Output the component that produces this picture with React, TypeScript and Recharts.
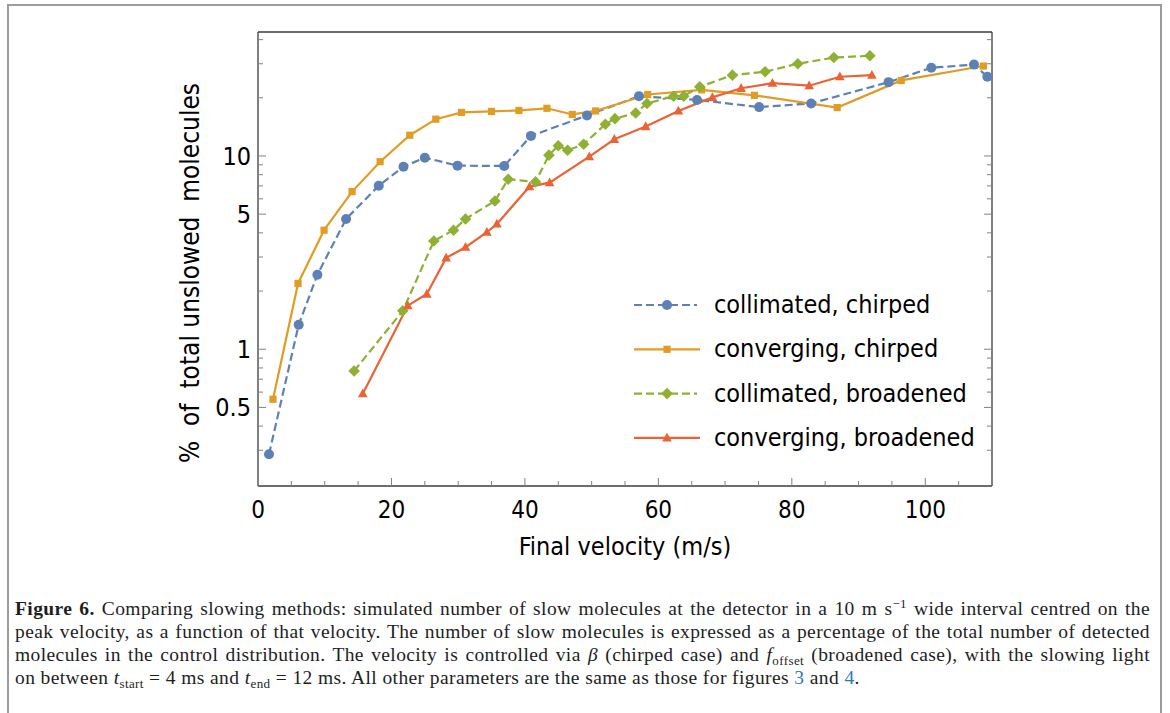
import React from 'react';
import { LineChart, Line, XAxis, YAxis, Legend, Label } from 'recharts';

const SANS = "'DejaVu Sans Condensed', 'DejaVu Sans', sans-serif";
const SERIF = "'Liberation Serif', 'DejaVu Serif', serif";
const FRAME = '#3c3c3c';
const TICK = '#808080';

// x axis: final velocity (m/s), minor tick every 5, label every 20
const velocityTicks = [0, 5, 10, 15, 20, 25, 30, 35, 40, 45, 50, 55, 60, 65, 70, 75, 80, 85, 90, 95, 100, 105, 110];
const velocityLabels = [0, 20, 40, 60, 80, 100];

// y axis: log scale, % of total unslowed molecules
const percentTicks = [0.3, 0.4, 0.5, 0.6, 0.7, 0.8, 0.9, 1, 2, 3, 4, 5, 6, 7, 8, 9, 10, 20, 30, 40];
const percentLabels = [0.5, 1, 5, 10];

// collimated, chirped
const colChirpedV = [1.65, 6.1, 8.9, 13.2, 18.1, 21.8, 25.0, 29.9, 36.9, 40.9, 49.3, 57.1, 65.8, 75.1, 82.9, 94.5, 100.9, 107.3, 109.3];
const colChirpedPct = [0.286, 1.34, 2.43, 4.72, 7.02, 8.8, 9.8, 8.91, 8.88, 12.7, 16.2, 20.4, 19.5, 17.9, 18.7, 24.1, 28.6, 29.7, 25.7];

// converging, chirped
const convChirpedV = [2.25, 6.0, 9.9, 14.1, 18.3, 22.75, 26.65, 30.5, 35.0, 39.1, 43.3, 47.1, 50.6, 58.4, 66.5, 74.4, 86.8, 96.4, 108.7];
const convChirpedPct = [0.551, 2.19, 4.13, 6.54, 9.34, 12.8, 15.5, 16.8, 17.0, 17.2, 17.65, 16.4, 17.1, 20.8, 22.0, 20.6, 17.8, 24.6, 29.2];

// collimated, broadened
const colBroadV = [14.4, 21.7, 26.35, 29.3, 31.1, 35.5, 37.5, 41.6, 43.6, 45.0, 46.4, 48.8, 52.05, 53.5, 56.6, 58.3, 62.3, 63.8, 66.2, 71.1, 76.0, 80.9, 86.3, 91.7];
const colBroadPct = [0.772, 1.58, 3.63, 4.13, 4.72, 5.85, 7.58, 7.34, 10.1, 11.3, 10.7, 11.5, 14.6, 15.6, 16.7, 18.7, 20.4, 20.4, 22.8, 26.2, 27.3, 30.0, 32.3, 33.0];

// converging, broadened
const convBroadV = [15.7, 22.45, 25.3, 28.2, 31.1, 34.3, 35.8, 40.7, 43.7, 49.65, 53.4, 58.1, 63.0, 68.1, 72.4, 77.1, 82.6, 87.2, 92.0];
const convBroadPct = [0.589, 1.68, 1.93, 2.97, 3.37, 4.03, 4.45, 6.94, 7.28, 9.92, 12.2, 14.2, 17.1, 20.1, 22.4, 23.8, 23.1, 25.7, 26.2];

const toRows = (v: number[], pct: number[]) => v.map((x, i) => ({ v: x, pct: pct[i] }));

const series = [
  { name: 'collimated, chirped', color: '#5E81B5', dashed: true, shape: 'circle', data: toRows(colChirpedV, colChirpedPct) },
  { name: 'converging, chirped', color: '#E19C24', dashed: false, shape: 'square', data: toRows(convChirpedV, convChirpedPct) },
  { name: 'collimated, broadened', color: '#8FB032', dashed: true, shape: 'diamond', data: toRows(colBroadV, colBroadPct) },
  { name: 'converging, broadened', color: '#EB6235', dashed: false, shape: 'triangle', data: toRows(convBroadV, convBroadPct) },
];

function Marker({ cx, cy, shape, color }: any) {
  if (cx == null || cy == null) return null;
  if (shape === 'circle') return <circle cx={cx} cy={cy} r={5} fill={color} />;
  if (shape === 'square') return <rect x={cx - 3.6} y={cy - 3.6} width={7.2} height={7.2} fill={color} />;
  if (shape === 'diamond')
    return <polygon points={`${cx},${cy - 5.8} ${cx + 5.8},${cy} ${cx},${cy + 5.8} ${cx - 5.8},${cy}`} fill={color} />;
  return <polygon points={`${cx},${cy - 5.2} ${cx + 4.8},${cy + 3.6} ${cx - 4.8},${cy + 3.6}`} fill={color} />;
}

function BottomTick({ x, y, payload }: any) {
  const major = velocityLabels.includes(payload.value);
  return (
    <g>
      <line x1={x} x2={x} y1={y} y2={y - (major ? 8 : 5)} stroke={TICK} />
      {major && (
        <text x={x} y={y + 32} textAnchor="middle" fontSize={24} fontFamily={SANS} fill="#000">
          {payload.value}
        </text>
      )}
    </g>
  );
}

function TopTick({ x, y, payload }: any) {
  const major = velocityLabels.includes(payload.value);
  return <line x1={x} x2={x} y1={y} y2={y + (major ? 8 : 5)} stroke={TICK} />;
}

function LeftTick({ x, y, payload }: any) {
  const major = percentLabels.includes(payload.value);
  return (
    <g>
      <line x1={x} x2={x + (major ? 8 : 5)} y1={y} y2={y} stroke={TICK} />
      {major && (
        <text x={x - 7} y={y + 9} textAnchor="end" fontSize={25} fontFamily={SANS} fill="#000">
          {payload.value}
        </text>
      )}
    </g>
  );
}

function RightTick({ x, y, payload }: any) {
  const major = percentLabels.includes(payload.value);
  return <line x1={x} x2={x - (major ? 8 : 5)} y1={y} y2={y} stroke={TICK} />;
}

function YTitle({ viewBox }: any) {
  const cx = viewBox.x - 8;
  const cy = viewBox.y + viewBox.height / 2 + 14;
  return (
    <text
      x={cx}
      y={cy}
      transform={`rotate(-90, ${cx}, ${cy})`}
      textAnchor="middle"
      dominantBaseline="central"
      fontSize={26}
      fontFamily={SANS}
      fill="#000"
      style={{ whiteSpace: 'pre' }}
    >
      {'%  of  total unslowed  molecules'}
    </text>
  );
}

function LegendBox() {
  return (
    <svg width={380} height={180}>
      {series.map((s, i) => {
        const cy = 23 + i * 44.3;
        return (
          <g key={s.name}>
            <line
              x1={9}
              x2={s.dashed ? 72 : 75}
              y1={cy}
              y2={cy}
              stroke={s.color}
              strokeWidth={2.2}
              strokeDasharray={s.dashed ? '8 4' : undefined}
            />
            <Marker cx={42} cy={cy} shape={s.shape} color={s.color} />
            <text x={89} y={cy + 8} fontSize={25} fontFamily={SANS} fill="#000">
              {s.name}
            </text>
          </g>
        );
      })}
    </svg>
  );
}

const sub = { fontSize: 13, verticalAlign: '-4px', lineHeight: 0 } as const;
const sup = { fontSize: 13, verticalAlign: '7px', lineHeight: 0 } as const;
const link = { color: '#2a7ab9' };
const justified = { textAlign: 'justify', textAlignLast: 'justify' } as const;

export default function App() {
  return (
    <div style={{ position: 'absolute', left: 0, top: 0, width: 1170, height: 713, background: '#fff', overflow: 'hidden' }}>
      <div
        style={{
          position: 'absolute',
          left: 7,
          top: 4,
          width: 1151,
          height: 780,
          border: '2px solid #9c9c9c',
        }}
      />
      <div style={{ position: 'absolute', left: 0, top: 0 }}>
        <LineChart width={1170} height={590} margin={{ top: 30, right: 176, bottom: 74, left: 198 }}>
          <XAxis
            xAxisId={0}
            dataKey="v"
            type="number"
            domain={[0, 110]}
            allowDataOverflow
            ticks={velocityTicks}
            interval={0}
            height={30}
            tickSize={0}
            tickMargin={0}
            tickLine={false}
            axisLine={{ stroke: FRAME, strokeWidth: 1.3 }}
            tick={BottomTick}
          >
            <Label value="Final velocity (m/s)" position="bottom" offset={21} fontSize={25} fontFamily={SANS} fill="#000" />
          </XAxis>
          <XAxis
            xAxisId="top"
            orientation="top"
            type="number"
            domain={[0, 110]}
            allowDataOverflow
            ticks={velocityTicks}
            interval={0}
            height={2}
            tickSize={0}
            tickMargin={0}
            tickLine={false}
            axisLine={{ stroke: FRAME, strokeWidth: 1.3 }}
            tick={TopTick}
          />
          <YAxis
            yAxisId={0}
            type="number"
            scale="log"
            domain={[0.196, 43.8]}
            allowDataOverflow
            ticks={percentTicks}
            interval={0}
            width={60}
            tickSize={0}
            tickMargin={0}
            tickLine={false}
            axisLine={{ stroke: FRAME, strokeWidth: 1.3 }}
            tick={LeftTick}
          >
            <Label content={YTitle} />
          </YAxis>
          <YAxis
            yAxisId="right"
            orientation="right"
            type="number"
            scale="log"
            domain={[0.196, 43.8]}
            allowDataOverflow
            ticks={percentTicks}
            interval={0}
            width={2}
            tickSize={0}
            tickMargin={0}
            tickLine={false}
            axisLine={{ stroke: FRAME, strokeWidth: 1.3 }}
            tick={RightTick}
          />
          {series.map((s) => (
            <Line
              key={s.name}
              data={s.data}
              dataKey="pct"
              name={s.name}
              type="linear"
              stroke={s.color}
              strokeWidth={2.2}
              strokeDasharray={s.dashed ? '8 4' : undefined}
              dot={(p: any) => <Marker key={p.index} cx={p.cx} cy={p.cy} shape={s.shape} color={s.color} />}
              activeDot={false}
              isAnimationActive={false}
            />
          ))}
          <Legend
            layout="horizontal"
            align="center"
            verticalAlign="middle"
            wrapperStyle={{ left: 625, top: 282, width: 380, height: 180 }}
            content={LegendBox}
          />
        </LineChart>
      </div>
      <div
        style={{
          position: 'absolute',
          left: 15,
          top: 597,
          width: 1135,
          fontFamily: SERIF,
          fontSize: 19.5,
          letterSpacing: 0.4,
          lineHeight: '23px',
          color: '#1e1e1e',
        }}
      >
        <div style={justified}>
          <b>Figure 6.</b> Comparing slowing methods: simulated number of slow molecules at the detector in a 10 m s
          <span style={sup}>−1</span> wide interval centred on the
        </div>
        <div style={justified}>
          peak velocity, as a function of that velocity. The number of slow molecules is expressed as a percentage of the
          total number of detected
        </div>
        <div style={justified}>
          molecules in the control distribution. The velocity is controlled via <i>β</i> (chirped case) and <i>f</i>
          <span style={sub}>offset</span> (broadened case), with the slowing light
        </div>
        <div>
          on between <i>t</i>
          <span style={sub}>start</span> = 4 ms and <i>t</i>
          <span style={sub}>end</span> = 12 ms. All other parameters are the same as those for figures{' '}
          <span style={link}>3</span> and <span style={link}>4</span>.
        </div>
      </div>
    </div>
  );
}
